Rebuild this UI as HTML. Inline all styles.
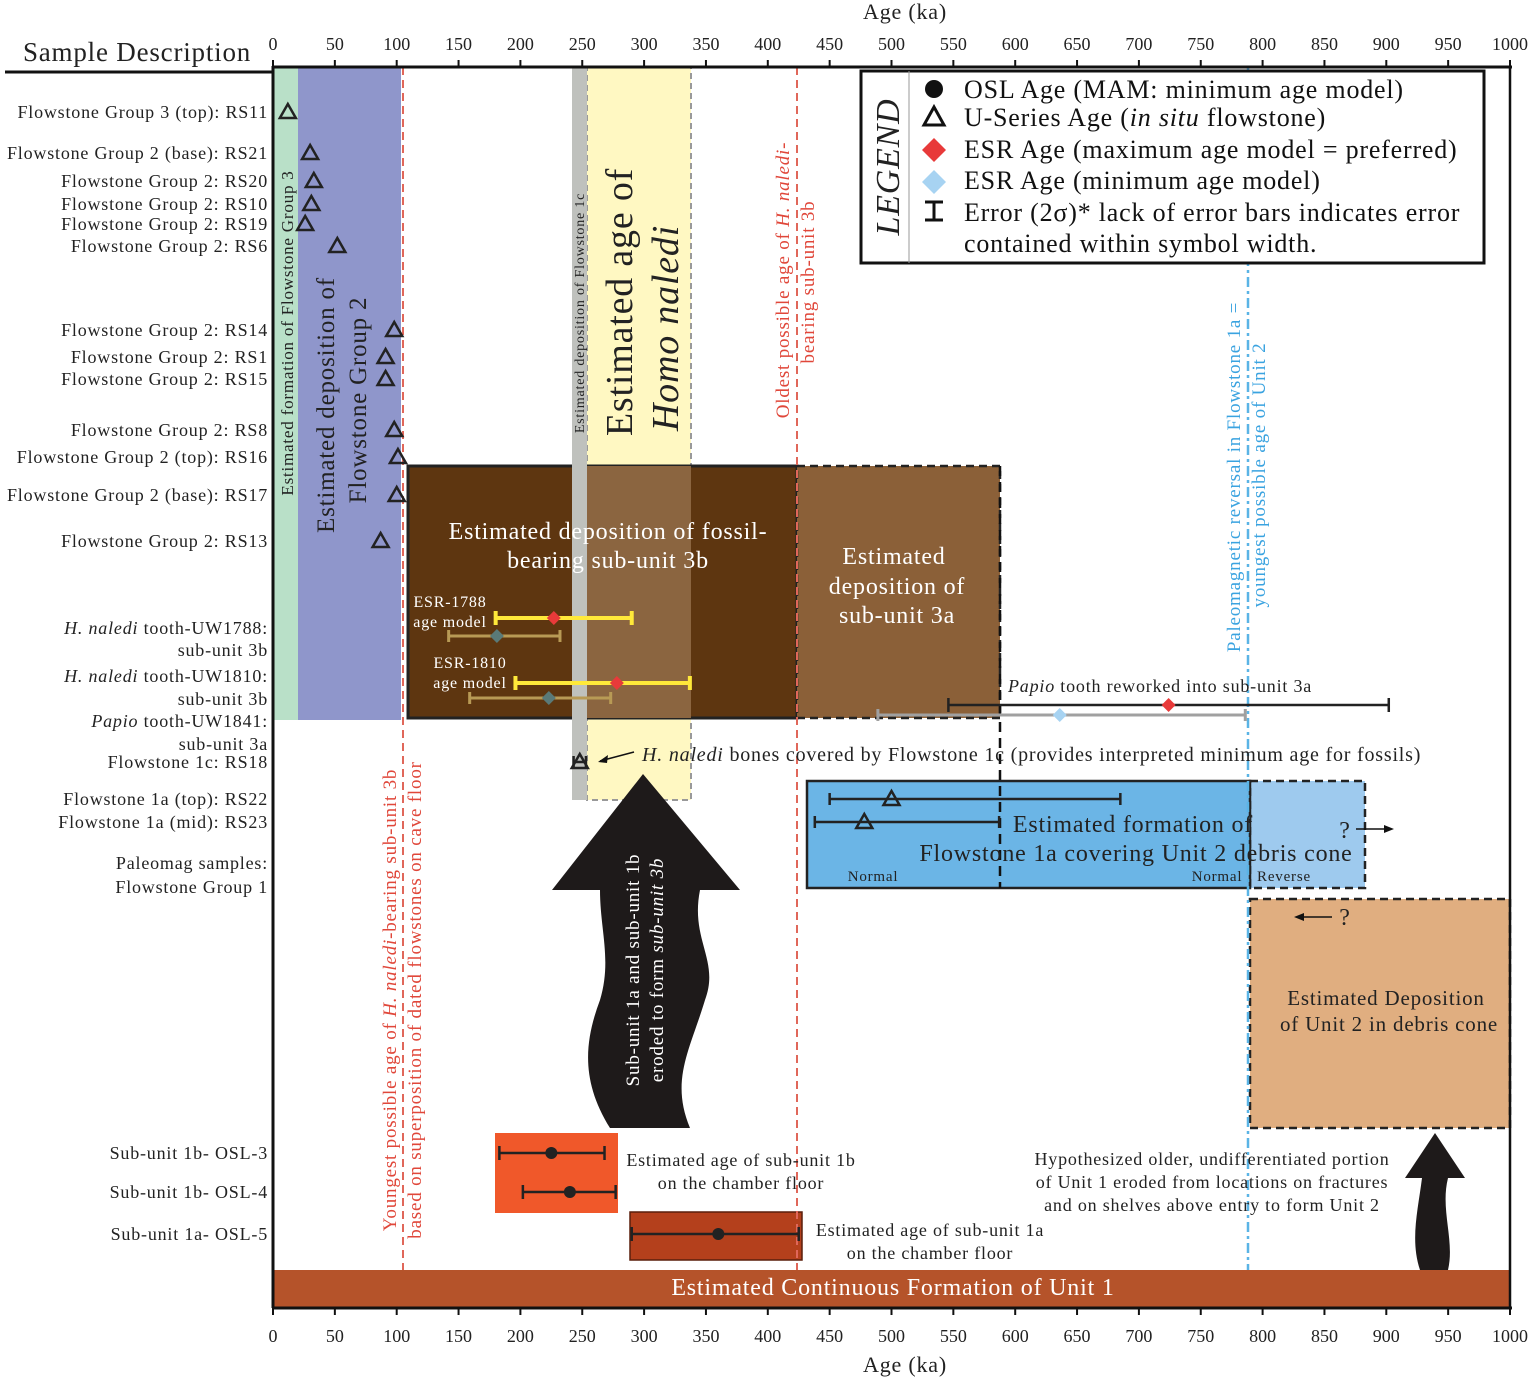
<!DOCTYPE html>
<html><head><meta charset="utf-8"><style>
body{margin:0;background:#fff}
svg{display:block;font-family:"Liberation Serif",serif;letter-spacing:0.05em}
</style></head><body>
<svg id="c" width="1535" height="1379" viewBox="0 0 1535 1379" xmlns="http://www.w3.org/2000/svg">
<g id="bg">
<rect x="273" y="67" width="25" height="653" fill="#b9e0c8"/>
<rect x="298" y="67" width="103" height="653" fill="#8f96cb"/>
<rect x="587" y="67" width="104" height="733" fill="#fff8c2" stroke="#999" stroke-dasharray="6,4" stroke-width="2"/>
<rect x="408" y="466" width="389" height="252" fill="#5e3610" stroke="#222" stroke-width="3"/>
<rect x="587" y="466" width="104" height="252" fill="#8b6540"/>
<rect x="572" y="67" width="15" height="733" fill="#bfc1bd"/>
<rect x="797" y="466" width="203" height="252" fill="#8b6038" stroke="#222" stroke-width="2.5" stroke-dasharray="8,5"/>
<rect x="1250" y="781" width="115" height="107" fill="#9ecaee" stroke="#222" stroke-width="2.5" stroke-dasharray="8,5"/>
<rect x="807" y="781" width="443" height="107" fill="#6bb5e6" stroke="#222" stroke-width="2.5"/>
<rect x="1250" y="899" width="260" height="229" fill="#e0ae80" stroke="#222" stroke-width="2.5" stroke-dasharray="8,5"/>
<rect x="495" y="1133" width="123" height="80" fill="#f0582a"/>
<rect x="630" y="1212" width="172" height="48" fill="#b4401c" stroke="#5a1f0c" stroke-width="1.5"/>
<rect x="273" y="1270" width="1237" height="37" fill="#b5532a"/>
<line x1="403" y1="67" x2="403" y2="1270" stroke="#e0675a" stroke-width="2" stroke-dasharray="8,5"/>
<line x1="797" y1="67" x2="797" y2="1270" stroke="#e0675a" stroke-width="2" stroke-dasharray="8,5"/>
<line x1="1248" y1="67" x2="1248" y2="1270" stroke="#5ab4e6" stroke-width="2.5" stroke-dasharray="10,4,3,4"/>
<line x1="1000" y1="466" x2="1000" y2="888" stroke="#111" stroke-width="2.5" stroke-dasharray="10,6"/>
<path d="M643,774 L740,890 L700,890 C690,940 720,960 705,1000 C690,1050 670,1080 690,1128 L610,1128 C580,1080 585,1040 600,1000 C612,960 600,930 600,890 L552,890 Z" fill="#1e1a1a"/>
<path d="M1435,1133 L1465,1178 L1448,1178 C1440,1210 1455,1240 1448,1270 L1420,1270 C1410,1240 1418,1210 1422,1178 L1405,1178 Z" fill="#1e1a1a"/>
</g>
<g id="axes">
<line x1="273" y1="67" x2="1512" y2="67" stroke="#111" stroke-width="3"/>
<line x1="5" y1="72" x2="273" y2="72" stroke="#111" stroke-width="3"/>
<line x1="273" y1="66" x2="273" y2="1308" stroke="#111" stroke-width="3"/>
<line x1="1510" y1="66" x2="1510" y2="1308" stroke="#111" stroke-width="2.5"/>
<line x1="273" y1="1308" x2="1512" y2="1308" stroke="#111" stroke-width="3"/>
<text x="905" y="19" font-size="22" text-anchor="middle" fill="#222">Age (ka)</text>
<text x="905" y="1372" font-size="22" text-anchor="middle" fill="#222">Age (ka)</text>
<text x="137" y="61" font-size="27" text-anchor="middle" fill="#222">Sample Description</text>
</g>
<g id="legend">
<rect x="861" y="71" width="623" height="192" fill="#fff" stroke="#111" stroke-width="3"/>
<line x1="909" y1="71" x2="909" y2="263" stroke="#999" stroke-width="1"/>
<text transform="translate(899,167) rotate(-90)" font-size="34" font-style="italic" text-anchor="middle" fill="#222">LEGEND</text>
<circle cx="934" cy="89" r="9" fill="#111"/>
<text x="964" y="98" font-size="26" fill="#111">OSL Age (MAM: minimum age model)</text>
<path d="M934,107 L944,125 L924,125 Z" fill="none" stroke="#111" stroke-width="3"/>
<text x="964" y="126" font-size="26" fill="#111">U-Series Age (<tspan font-style="italic">in situ</tspan> flowstone)</text>
<path d="M934,138 L946,150 L934,162 L922,150 Z" fill="#e83a3a"/>
<text x="964" y="158" font-size="26" fill="#111">ESR Age (maximum age model = preferred)</text>
<path d="M934,170 L946,182 L934,194 L922,182 Z" fill="#a7d3f2"/>
<text x="964" y="189" font-size="26" fill="#111">ESR Age (minimum age model)</text>
<path d="M925,202 h18 M934,202 v18 M925,220 h18" stroke="#111" stroke-width="3" fill="none"/>
<text x="964" y="221" font-size="26" fill="#111">Error (2σ)* lack of error bars indicates error</text>
<text x="964" y="252" font-size="26" fill="#111">contained within symbol width.</text>
</g>
<g id="notes" fill="#222">
<text transform="translate(293,333) rotate(-90)" font-size="17" text-anchor="middle">Estimated formation of Flowstone Group 3</text>
<text transform="translate(334,405) rotate(-90)" font-size="25" text-anchor="middle">Estimated deposition of</text>
<text transform="translate(366,400) rotate(-90)" font-size="25" text-anchor="middle">Flowstone Group 2</text>
<text transform="translate(584,313) rotate(-90)" font-size="14" text-anchor="middle">Estimated deposition of Flowstone 1c</text>
<text transform="translate(632,302) rotate(-90)" font-size="38" text-anchor="middle">Estimated age of</text>
<text transform="translate(678,328) rotate(-90)" font-size="38" font-style="italic" text-anchor="middle">Homo naledi</text>
<text transform="translate(789,280) rotate(-90)" font-size="19" fill="#e0473a" text-anchor="middle">Oldest possible age of <tspan font-style="italic">H. naledi</tspan>-</text>
<text transform="translate(814,282) rotate(-90)" font-size="19" fill="#e0473a" text-anchor="middle">bearing sub-unit 3b</text>
<text transform="translate(396,1000) rotate(-90)" font-size="19" fill="#e0473a" text-anchor="middle">Youngest possible age of <tspan font-style="italic">H. naledi</tspan>-bearing  sub-unit 3b</text>
<text transform="translate(421,1000) rotate(-90)" font-size="19" fill="#e0473a" text-anchor="middle">based on  superposition of dated flowstones on cave floor</text>
<text transform="translate(1240,477) rotate(-90)" font-size="19" fill="#3aa3e0" text-anchor="middle">Paleomagnetic reversal in Flowstone 1a =</text>
<text transform="translate(1265,475) rotate(-90)" font-size="19" fill="#3aa3e0" text-anchor="middle">youngest possible age of  Unit 2</text>
<text transform="translate(639,970) rotate(-90)" font-size="19" fill="#fff" text-anchor="middle">Sub-unit 1a and sub-unit 1b</text>
<text transform="translate(663,970) rotate(-90)" font-size="19" fill="#fff" text-anchor="middle">eroded to form <tspan font-style="italic">sub-unit 3b</tspan></text>
<text x="608" y="539" font-size="24" fill="#fff" text-anchor="middle">Estimated deposition of fossil-</text>
<text x="608" y="568" font-size="24" fill="#fff" text-anchor="middle">bearing sub-unit 3b</text>
<text x="894" y="564" font-size="24" fill="#fff" text-anchor="middle">Estimated</text>
<text x="897" y="594" font-size="24" fill="#fff" text-anchor="middle">deposition of</text>
<text x="897" y="623" font-size="24" fill="#fff" text-anchor="middle">sub-unit 3a</text>
<text x="450" y="607" font-size="16" fill="#fff" text-anchor="middle">ESR-1788</text>
<text x="450" y="627" font-size="16" fill="#fff" text-anchor="middle">age model</text>
<text x="470" y="668" font-size="16" fill="#fff" text-anchor="middle">ESR-1810</text>
<text x="470" y="688" font-size="16" fill="#fff" text-anchor="middle">age model</text>
<text x="1008" y="692" font-size="18"><tspan font-style="italic">Papio</tspan> tooth  reworked into sub-unit 3a</text>
<text x="642" y="761" font-size="20"><tspan font-style="italic">H. naledi</tspan>  bones covered by Flowstone 1c (provides interpreted minimum age for fossils)</text>
<path d="M634,752 L600,761" stroke="#111" stroke-width="1.5"/><path d="M598,762 L608,755 L607,763 Z" fill="#111"/>
<text x="1133" y="832" font-size="24" text-anchor="middle">Estimated formation of</text>
<text x="1136" y="861" font-size="24" text-anchor="middle">Flowstone 1a covering Unit 2 debris cone</text>
<text x="873" y="881" font-size="15" text-anchor="middle">Normal</text>
<text x="1217" y="881" font-size="15" text-anchor="middle">Normal</text>
<text x="1284" y="881" font-size="15" text-anchor="middle">Reverse</text>
<text x="1345" y="838" font-size="24" text-anchor="middle">?</text>
<path d="M1356,829 H1390" stroke="#111" stroke-width="1.5"/><path d="M1394,829 L1384,825 L1384,833 Z" fill="#111"/>
<text x="1345" y="925" font-size="24" text-anchor="middle">?</text>
<path d="M1332,917 H1298" stroke="#111" stroke-width="1.5"/><path d="M1294,917 L1304,913 L1304,921 Z" fill="#111"/>
<text x="1386" y="1005" font-size="21" text-anchor="middle">Estimated Deposition</text>
<text x="1389" y="1031" font-size="21" text-anchor="middle">of Unit 2 in debris cone</text>
<text x="741" y="1166" font-size="18" text-anchor="middle">Estimated age of sub-unit 1b</text>
<text x="741" y="1189" font-size="18" text-anchor="middle">on the chamber floor</text>
<text x="930" y="1236" font-size="18" text-anchor="middle">Estimated age of sub-unit 1a</text>
<text x="930" y="1259" font-size="18" text-anchor="middle">on the chamber floor</text>
<text x="1212" y="1165" font-size="18" text-anchor="middle">Hypothesized older, undifferentiated portion</text>
<text x="1212" y="1188" font-size="18" text-anchor="middle">of Unit 1 eroded from locations on fractures</text>
<text x="1212" y="1211" font-size="18" text-anchor="middle">and on shelves above entry to form Unit 2</text>
<text x="893" y="1295" font-size="24" fill="#fff" text-anchor="middle">Estimated Continuous Formation of Unit 1</text>
</g>
<g id="marks"></g>
</svg>
<script>
const ticks = [0,50,100,150,200,250,300,350,400,450,500,550,600,650,700,750,800,850,900,950,1000];
const rowLabels = ["Flowstone  Group 3 (top): RS11","Flowstone Group 2 (base): RS21","Flowstone Group 2: RS20","Flowstone Group 2: RS10","Flowstone Group 2: RS19","Flowstone Group 2: RS6","Flowstone Group 2: RS14","Flowstone Group 2: RS1","Flowstone Group 2: RS15","Flowstone Group 2: RS8","Flowstone Group 2 (top): RS16","Flowstone Group 2 (base): RS17","Flowstone Group 2: RS13","Flowstone 1c: RS18","Flowstone 1a (top): RS22","Flowstone 1a (mid): RS23","Sub-unit 1b- OSL-3","Sub-unit 1b- OSL-4","Sub-unit 1a- OSL-5"];
const rowY = [112,153,181,204,224,246,330,357,379,430,457,495,541,762,799,822,1153,1192,1234];
const extraLabels = [["H. naledi"," tooth-UW1788:",634],["","sub-unit 3b",656],["H. naledi"," tooth-UW1810:",682],["","sub-unit 3b",705],["Papio"," tooth-UW1841:",727],["","sub-unit 3a",750],["","Paleomag samples:",869],["","Flowstone Group 1",893]];
const uAges = [12,30,33,31,26,52,98,91,91,98,101,100,87,248,500,478];
const uLow  = [null,null,null,null,null,null,null,null,null,null,null,null,null,243,450,438];
const uHigh = [null,null,null,null,null,null,null,null,null,null,null,null,null,253,685,587];
const esrMaxAge = [227,278,724];
const esrMaxLow = [180,196,546];
const esrMaxHigh = [290,337,902];
const esrMaxY = [618,683,705];
const esrMinAge = [181,223,636];
const esrMinLow = [142,159,489];
const esrMinHigh = [232,273,786];
const esrMinY = [636,698,715];
const oslAge = [225,240,360];
const oslLow = [183,202,290];
const oslHigh = [268,277,425];

const NS="http://www.w3.org/2000/svg";
const svg=document.getElementById('c'), g=document.getElementById('marks');
const x=v=>273+v*1.237;
function mk(tag,attrs,parent){const e=document.createElementNS(NS,tag);for(const k in attrs)e.setAttribute(k,attrs[k]);(parent||g).appendChild(e);return e;}
ticks.forEach(t=>{
  [[67,-7,50],[1308,7,1342]].forEach(([y0,d,ty])=>{
    const l=mk('line',{x1:x(t),x2:x(t),y1:y0,y2:y0+d,stroke:'#111','stroke-width':2});
    
    
    const tx=mk('text',{x:x(t),y:ty,'font-size':18,'text-anchor':'middle',fill:'#222','letter-spacing':0});
    tx.textContent=t;
    
    
  });
});
rowLabels.forEach((s,i)=>{
  const t=mk('text',{x:268,y:rowY[i]+6,'font-size':18,'text-anchor':'end',fill:'#222'});
  t.textContent=s;
  
  
});
extraLabels.forEach(r=>{
  const t=mk('text',{x:268,y:r[2],'font-size':18,'text-anchor':'end',fill:'#222'});
  if(r[0]){const a=mk('tspan',{'font-style':'italic'},t);a.textContent=r[0];}
  const b=mk('tspan',{},t);b.textContent=r[1];
  
  
});
function errbar(lo,hi,y,col,w,cap){
  const p=mk('path',{d:`M${x(lo)},${y}H${x(hi)}M${x(lo)},${y-cap}v${2*cap}M${x(hi)},${y-cap}v${2*cap}`,stroke:col,'stroke-width':w,fill:'none'});
  
  
}
uAges.forEach((a,i)=>{
  const y=rowY[i];
  if(uLow[i]!=null) errbar(uLow[i],uHigh[i],y,'#222',2.5,6);
  const cx=x(a);
  const p=mk('path',{d:`M${cx},${y-8} L${cx+8},${y+6} L${cx-8},${y+6} Z`,fill:'none',stroke:'#222','stroke-width':2.5});
  
  
});
function diamond(a,y,col,r){
  const cx=x(a);
  const p=mk('path',{d:`M${cx},${y-r}L${cx+r},${y}L${cx},${y+r}L${cx-r},${y}Z`,fill:col});
  
  
}
esrMinAge.forEach((a,i)=>{
  errbar(esrMinLow[i],esrMinHigh[i],esrMinY[i],i<2?'#b89a55':'#a0a0a0',3,6);
  diamond(a,esrMinY[i],i<2?'#5a7a78':'#a7d3f2',7);
});
esrMaxAge.forEach((a,i)=>{
  errbar(esrMaxLow[i],esrMaxHigh[i],esrMaxY[i],i<2?'#ffe93a':'#222',i<2?4:2.5,7);
  diamond(a,esrMaxY[i],'#e83a3a',7);
});
oslAge.forEach((a,i)=>{
  const y=rowY[16+i];
  errbar(oslLow[i],oslHigh[i],y,'#222',2.5,7);
  const c=mk('circle',{cx:x(a),cy:y,r:6,fill:'#222'});
  
  
});
</script>
</body></html>
